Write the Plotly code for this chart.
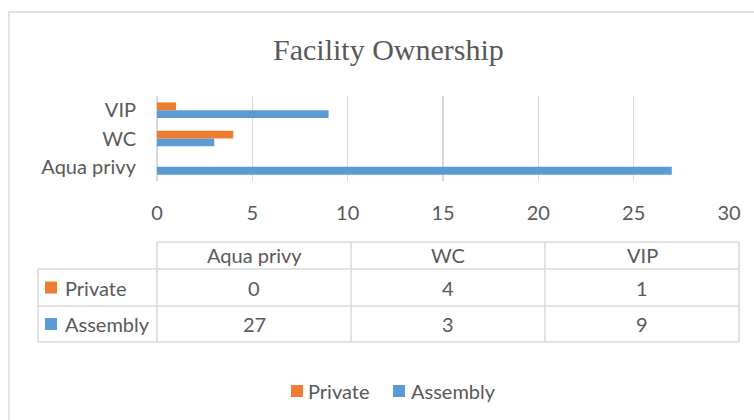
import plotly.graph_objects as go

# ---- data ----
categories = ["Aqua privy", "WC", "VIP"]
private = [0, 4, 1]
assembly = [27, 3, 9]
x_ticks = [0, 5, 10, 15, 20, 25, 30]
title_text = "Facility Ownership"

# ---- style ----
W, H = 754, 420
ORANGE = "#ED7D31"
BLUE = "#5B9BD5"
TXT = "#595959"
GRID = "#D9D9D9"
FONT = "Lato"
FS = 20


def px(x):
    return x / W


def py(y):
    return 1 - y / H


fig = go.Figure()
fig.add_bar(y=categories, x=assembly, orientation="h", name="Assembly",
            marker=dict(color=BLUE, line=dict(width=0)))
fig.add_bar(y=categories, x=private, orientation="h", name="Private",
            marker=dict(color=ORANGE, line=dict(width=0)))

plot_l, plot_r, plot_t, plot_b = 157, 729, 96, 181

fig.update_layout(
    width=W, height=H, autosize=False,
    margin=dict(l=0, r=0, t=0, b=0, autoexpand=False),
    paper_bgcolor="white", plot_bgcolor="white",
    barmode="group", bargap=0.45, bargroupgap=0,
    showlegend=False,
    font=dict(family=FONT, size=FS, color=TXT),
    xaxis=dict(domain=[px(plot_l), px(plot_r)], range=[0, 30], tickvals=x_ticks,
               automargin=False,
               showgrid=True, gridcolor=GRID, gridwidth=1.5,
               zeroline=True, zerolinecolor=GRID, zerolinewidth=1.5,
               showline=False, ticks="", ticklabelstandoff=18,
               tickfont=dict(family=FONT, size=FS, color=TXT), fixedrange=True),
    yaxis=dict(domain=[py(plot_b), py(plot_t)], type="category",
               categoryorder="array", categoryarray=categories,
               range=[-0.5, len(categories) - 0.5], automargin=False,
               showgrid=False, zeroline=False, showline=False, ticks="",
               ticklabelstandoff=20,
               tickfont=dict(family=FONT, size=FS, color=TXT), fixedrange=True),
)

shapes = []
annotations = []

# outer chart border
shapes.append(dict(type="rect", xref="paper", yref="paper",
                   x0=px(9), x1=px(770), y0=py(12), y1=py(440),
                   line=dict(color=GRID, width=1.5)))

# title
annotations.append(dict(text=title_text, xref="paper", yref="paper",
                        x=px(389), y=py(49), xanchor="center", yanchor="middle",
                        showarrow=False,
                        font=dict(family="Liberation Serif", size=30, color=TXT)))

# ---- data table ----
tbl_l, tbl_c0, tbl_r = 38, 157, 739
row_y = [242, 269, 306, 342]
ncol = len(categories)
col_w = (tbl_r - tbl_c0) / ncol
col_x = [tbl_c0 + i * col_w for i in range(ncol + 1)]


def hline(x0, x1, y):
    shapes.append(dict(type="line", xref="paper", yref="paper",
                       x0=px(x0), x1=px(x1), y0=py(y), y1=py(y),
                       line=dict(color=GRID, width=1.5)))


def vline(x, y0, y1):
    shapes.append(dict(type="line", xref="paper", yref="paper",
                       x0=px(x), x1=px(x), y0=py(y0), y1=py(y1),
                       line=dict(color=GRID, width=1.5)))


hline(tbl_c0, tbl_r, row_y[0])
for y in row_y[1:]:
    hline(tbl_l, tbl_r, y)
vline(tbl_l, row_y[1], row_y[3])
for x in col_x:
    vline(x, row_y[0], row_y[3])


def text(t, x, y, anchor="center"):
    annotations.append(dict(text=t, xref="paper", yref="paper", x=px(x), y=py(y),
                            xanchor=anchor, yanchor="middle", showarrow=False,
                            font=dict(family=FONT, size=FS, color=TXT)))


def square(x0, y0, color, size=12):
    shapes.append(dict(type="rect", xref="paper", yref="paper",
                       x0=px(x0), x1=px(x0 + size), y0=py(y0), y1=py(y0 + size),
                       line=dict(width=0), fillcolor=color))


# header
for i, c in enumerate(categories):
    text(c, (col_x[i] + col_x[i + 1]) / 2, (row_y[0] + row_y[1]) / 2)

rows = [("Private", private, ORANGE), ("Assembly", assembly, BLUE)]
for r, (name, vals, color) in enumerate(rows):
    yc = (row_y[r + 1] + row_y[r + 2]) / 2
    square(45, yc - 6, color)
    text(name, 63, yc, anchor="left")
    for i, v in enumerate(vals):
        text(str(v), (col_x[i] + col_x[i + 1]) / 2, yc)

# ---- bottom legend ----
leg_y = 391
square(291, leg_y - 6, ORANGE)
text("Private", 306, leg_y, anchor="left")
square(393, leg_y - 6, BLUE)
text("Assembly", 409, leg_y, anchor="left")

fig.update_layout(shapes=shapes, annotations=annotations)

fig.write_html(
    "out.html",
    config={"responsive": False, "displayModeBar": False, "staticPlot": True},
    post_script="document.body.style.margin='0';document.body.style.overflow='hidden';",
)
